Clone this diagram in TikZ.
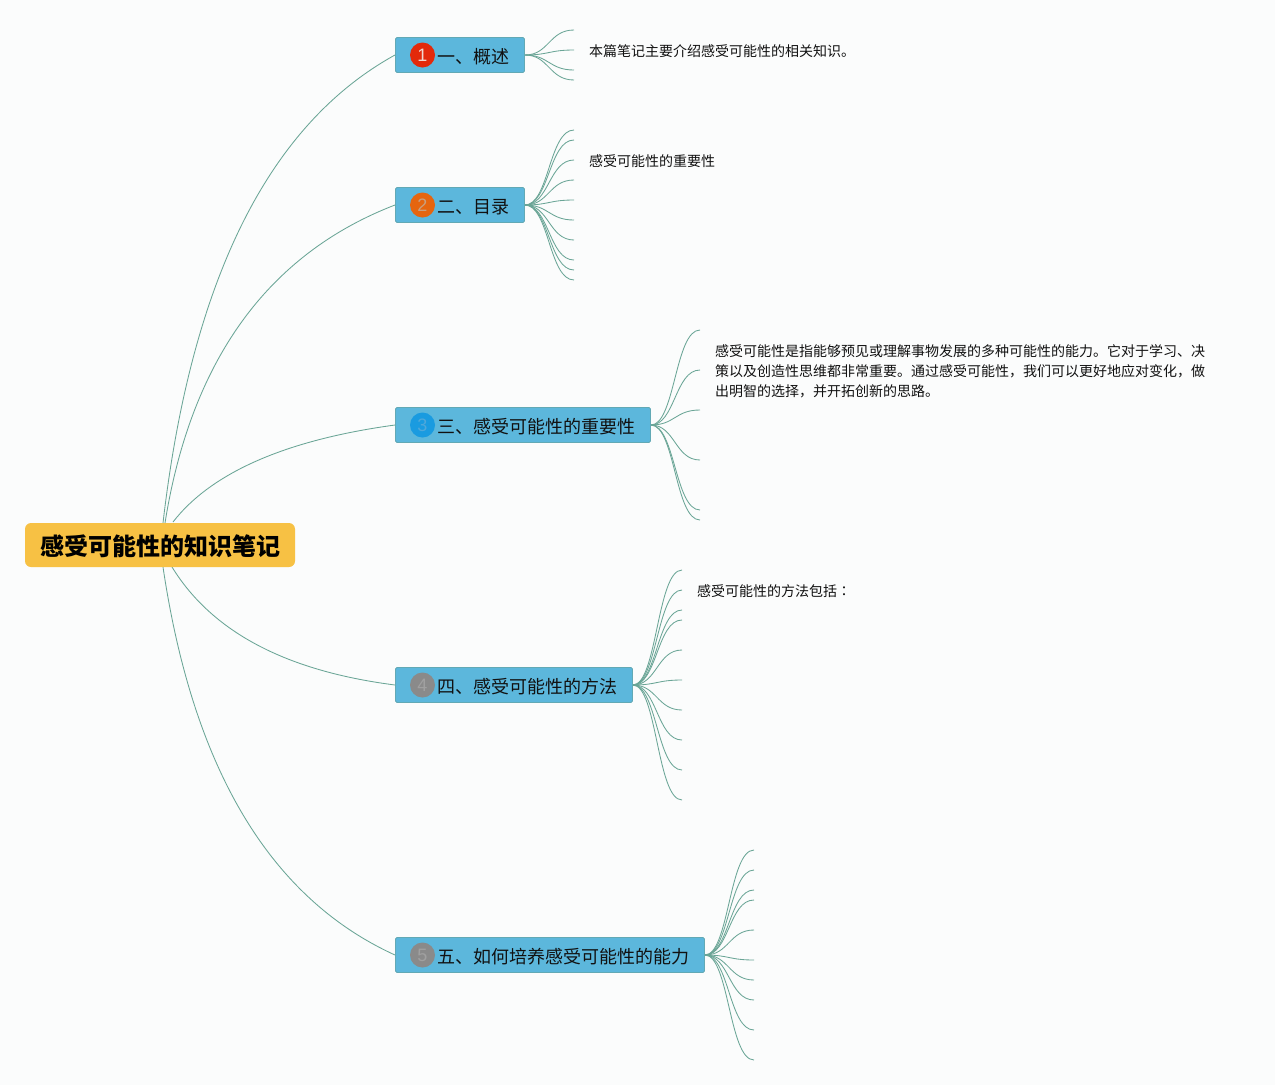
\documentclass[tikz,border=0pt]{standalone}
\usepackage{fontspec}
\setmainfont{Noto Sans CJK SC}
\newfontfamily\tcfont{Noto Sans CJK TC}
\newfontfamily\numfont{Liberation Sans}
\usetikzlibrary{backgrounds}
\definecolor{paper}{HTML}{FBFCFC}
\definecolor{linkc}{HTML}{6AA596}
\definecolor{rootc}{HTML}{F7C144}
\definecolor{boxc}{HTML}{5CB7DC}
\definecolor{boxl}{HTML}{62A9B5}
\definecolor{txt}{HTML}{111111}
\definecolor{bada}{HTML}{E3290B}
\definecolor{badb}{HTML}{E5650F}
\definecolor{badc}{HTML}{1A9BE0}
\definecolor{badd}{HTML}{8A8A8A}
\definecolor{numa}{HTML}{F0D8D0}
\definecolor{numb}{HTML}{C8A080}
\definecolor{numc}{HTML}{4FA8DA}
\definecolor{numd}{HTML}{A0A0A0}
\tikzset{
  link/.style={draw=linkc,line width=0.85pt},
  rootbox/.style={fill=rootc,rounded corners=6pt,inner sep=0pt,minimum width=270pt,minimum height=44pt,font=\fontsize{24}{24}\selectfont\bfseries,text=black},
  topic/.style={draw=boxl,line width=0.9pt,fill=boxc,rounded corners=1.5pt,inner sep=0pt,minimum height=35pt,anchor=west},
  ttext/.style={font=\fontsize{18}{18}\selectfont,text=txt,inner sep=0pt,anchor=west},
  badge/.style={circle,inner sep=0pt,minimum size=25pt,font=\numfont\fontsize{18}{18}\selectfont},
  leaf/.style={font=\fontsize{14}{20}\selectfont,text=txt,inner sep=0pt,anchor=west,align=left},
}
\begin{document}
\begin{tikzpicture}[x=1pt,y=-1pt]
\useasboundingbox (0,0) rectangle (1275,1085);
\node[rootbox,minimum height=44pt] (root) at (160,545) {};
\node[font=\fontsize{24}{24}\selectfont\bfseries,text=black,inner sep=0pt] (roottext) at (160.5,546) {感受可能性的知识笔记};
\node[topic,minimum width=129pt] (t1) at (395,55) {};
\node[topic,minimum width=129pt] (t2) at (395,205) {};
\node[topic,minimum width=255pt] (t3) at (395,425) {};
\node[topic,minimum width=237pt] (t4) at (395,685) {};
\node[topic,minimum width=309pt] (t5) at (395,955) {};
\node[badge,fill=bada,text=numa] (b1) at (422.5,55) {1};
\node[badge,fill=badb,text=numb] (b2) at (422.5,205) {2};
\node[badge,fill=badc,text=numc] (b3) at (422.5,425) {3};
\node[badge,fill=badd,text=numd] (b4) at (422.5,685) {4};
\node[badge,fill=badd,text=numd] (b5) at (422.5,955) {5};
\node[ttext] (l1) at (437,57) {一、概述};
\node[ttext] (l2) at (437,207) {二、目录};
\node[ttext] (l3) at (437,427) {三、感受可能性的重要性};
\node[ttext] (l4) at (437,687) {四、感受可能性的方法};
\node[ttext] (l5) at (437,957) {五、如何培养感受可能性的能力};
\node[leaf] (n1) at (589,51.5) {本篇笔记主要介绍感受可能性的相关知识。};
\node[leaf] (n2) at (589,161.5) {感受可能性的重要性};
\node[leaf] (n3) at (715,371.5) {感受可能性是指能够预见或理解事物发展的多种可能性的能力。它对于学习、决\\策以及创造性思维都非常重要。通过感受可能性，我们可以更好地应对变化，做\\出明智的选择，并开拓创新的思路。};
\node[leaf] (n4) at (697,591.5) {感受可能性的方法包括{\tcfont ：}};
\begin{pgfonlayer}{background}
\fill[paper] (0,0) rectangle (1275,1085);
\draw[link] (root.center) ++(3,-22) .. controls (191,281) and (268,125) .. (t1.west);
\draw[link] (root.center) ++(5,-22) .. controls (191,360) and (268,254) .. (t2.west);
\draw[link] (root.center) ++(13,-23) .. controls (211,473) and (285,440) .. (t3.west);
\draw[link] (root.center) ++(12,22) .. controls (212,632) and (286,671) .. (t4.west);
\draw[link] (root.center) ++(3,22) .. controls (193,769) and (270,898) .. (t5.west);
\foreach \y in {30,50,70,80} {
  \coordinate (e1\y) at (574,\y);
  \draw[link] (t1.east) .. controls (549,55) and (549,\y) .. (e1\y);
}
\foreach \y in {130,140,160,180,200,220,240,260,270,280} {
  \coordinate (e2\y) at (574,\y);
  \draw[link] (t2.east) .. controls (549,205) and (549,\y) .. (e2\y);
}
\foreach \y in {330,370,410,460,510,520} {
  \coordinate (e3\y) at (700,\y);
  \draw[link] (t3.east) .. controls (675,425) and (675,\y) .. (e3\y);
}
\foreach \y in {570,590,610,620,650,680,710,740,770,800} {
  \coordinate (e4\y) at (682,\y);
  \draw[link] (t4.east) .. controls (657,685) and (657,\y) .. (e4\y);
}
\foreach \y in {850,870,890,900,930,960,980,1000,1030,1060} {
  \coordinate (e5\y) at (754,\y);
  \draw[link] (t5.east) .. controls (729,955) and (729,\y) .. (e5\y);
}
\end{pgfonlayer}
\end{tikzpicture}
\end{document}
